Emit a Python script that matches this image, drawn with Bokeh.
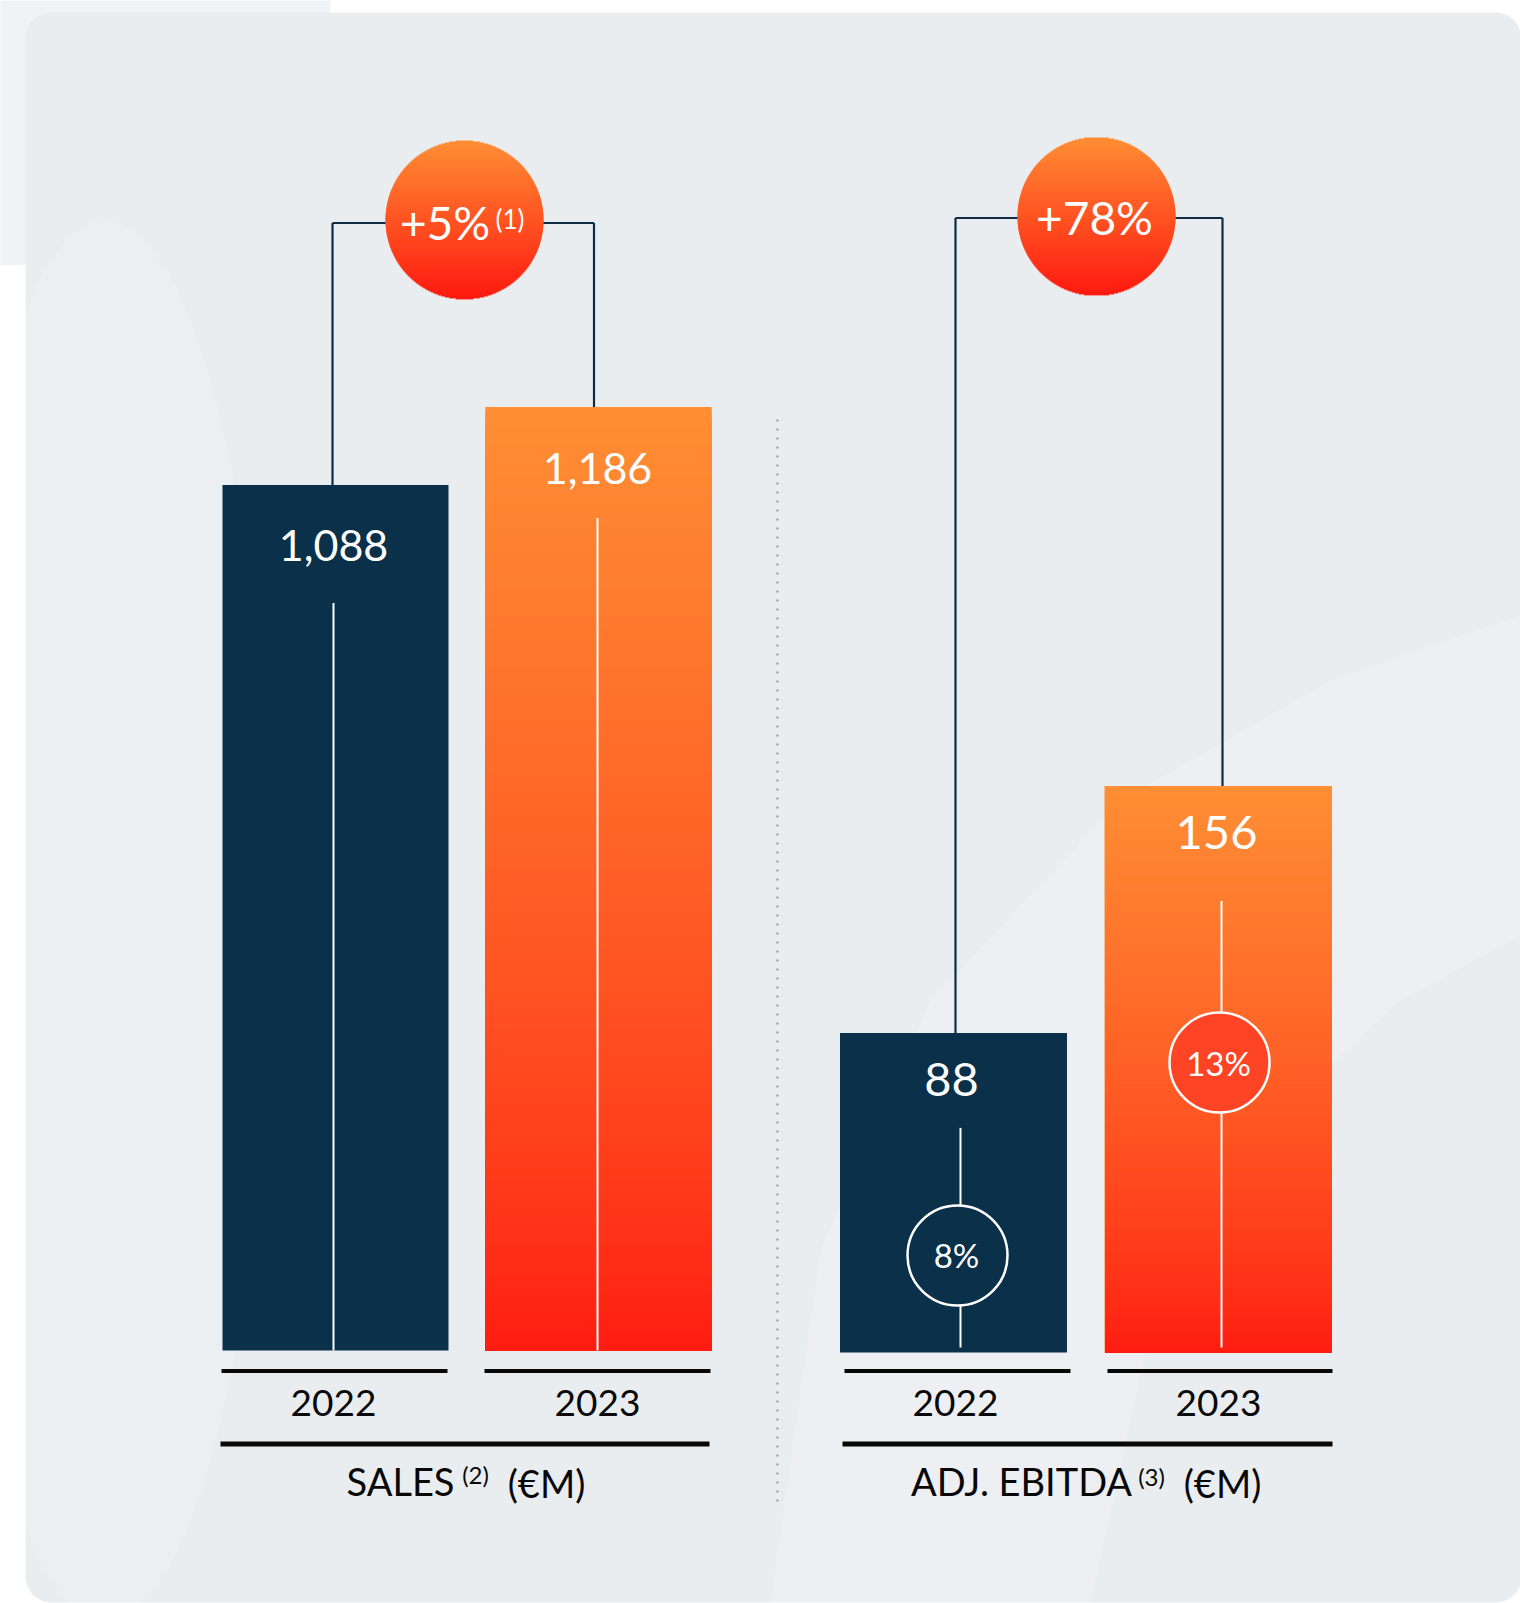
import numpy as np
from bokeh.plotting import figure
from bokeh.models import Range1d
from bokeh.core.properties import value
from bokeh.embed import file_html
from bokeh.resources import INLINE

# ---------------- data ----------------
years = ["2022", "2023"]
sales = [1088, 1186]            # EUR M
ebitda = [88, 156]              # EUR M
ebitda_margin = [8, 13]         # %
sales_growth = 5                # %
ebitda_growth = 78              # %
growth_notes = ["(1)", ""]
titles = ["SALES", "ADJ. EBITDA"]
title_notes = ["(2)", "(3)"]
unit_label = "(€M)"

# ---------------- layout (reference pixel coordinates, y downwards) ----------------
W, H = 1520, 1603
X0, Y0 = 0, 0
FONT = "Lato"
NAVY = "#0B3049"
INK = "#080808"
ORANGE = (255, 142, 52)
RED = (255, 26, 16)

SALES_BASE, SALES_PX = 1350.0, 0.7955
EB_BASE, EB_PX = 1352.0, 3.632

sales_x = [335, 598]
eb_x = [953, 1217.5]
BAR_W = 226


def Y(r):
    return -np.asarray(r, dtype=float) if np.ndim(r) else -float(r)


def to_sales(r):
    return (SALES_BASE - r) / SALES_PX


def to_eb(r):
    return (EB_BASE - r) / EB_PX


def mix(f, p=1.0):
    g = max(0.0, min(1.0, f)) ** p
    return "#%02x%02x%02x" % tuple(int(round(RED[i] + (ORANGE[i] - RED[i]) * g)) for i in range(3))


p = figure(width=W, height=H, output_backend="svg", toolbar_location=None,
           x_range=Range1d(X0, X0 + W), y_range=Range1d(-(Y0 + H), -Y0),
           x_axis_location=None, y_axis_location=None, min_border=0)
p.extra_y_ranges = {
    "sales": Range1d(to_sales(Y0 + H), to_sales(Y0)),
    "eb": Range1d(to_eb(Y0 + H), to_eb(Y0)),
}
p.grid.visible = False
p.outline_line_color = None
p.background_fill_color = "white"
p.border_fill_color = "white"

# ---------------- background ----------------
p.ellipse(x=0, y=Y(0), width=660, height=530, fill_color="#F0F3F5", line_color=None)


def rounded_rect(l, t, r, b, rad, n=18):
    xs, ys = [], []
    for cx, cy, a0 in [(r - rad, t + rad, -90), (r - rad, b - rad, 0),
                       (l + rad, b - rad, 90), (l + rad, t + rad, 180)]:
        for a in np.linspace(a0, a0 + 90, n):
            xs.append(cx + rad * np.cos(np.radians(a)))
            ys.append(cy + rad * np.sin(np.radians(a)))
    return xs, ys


px, py = rounded_rect(25, 12, 1521, 1602, 26)
p.patch(px, list(Y(py)), fill_color="#EAEDF0", line_color=None)

# subtle lighter shapes in the panel
p.ellipse(x=105, y=Y(920), width=330, height=1400, fill_color="white", fill_alpha=0.12, line_color=None)
bx = [1521, 1330, 1120, 930, 820, 770, 1090, 1150, 1260, 1400, 1521]
by = [615, 680, 800, 1000, 1250, 1602, 1602, 1330, 1130, 1000, 935]
p.patch(bx, list(Y(by)), fill_color="white", fill_alpha=0.14, line_color=None)

# dotted divider
p.segment(x0=777, y0=Y(419), x1=777, y1=Y(1503), line_color="#8796A5", line_width=2, line_dash="2 7")

# ---------------- bars ----------------
p.vbar(x=sales_x, width=BAR_W, top=sales, bottom=0, y_range_name="sales",
       fill_color=[NAVY, mix(1.0)], line_color=None)
p.vbar(x=eb_x, width=BAR_W + 1, top=ebitda, bottom=0, y_range_name="eb",
       fill_color=[NAVY, mix(1.0)], line_color=None)

# gradient for the 2023 bars (stacked overlapping slices from tallest to shortest)
N = 150
for cx, v, rng in [(sales_x[1], sales[1], "sales"), (eb_x[1], ebitda[1], "eb")]:
    tops = [v * (N - k) / N for k in range(N)]
    cols = [mix((N - k - 0.5) / N, 0.75) for k in range(N)]
    p.quad(left=cx - BAR_W / 2, right=cx + BAR_W / 2 + (1 if rng == "eb" else 0), bottom=0, top=tops,
           fill_color=cols, line_color=None, y_range_name=rng)

# white guide lines inside bars
sales_line_off = [118, 111]
eb_line_off = [95, 115]
p.segment(x0=[333, 597], x1=[333, 597],
          y0=[v - o / SALES_PX for v, o in zip(sales, sales_line_off)], y1=[0, 0],
          y_range_name="sales", line_color="white", line_width=2)
p.segment(x0=[960, 1221], x1=[960, 1221],
          y0=[v - o / EB_PX for v, o in zip(ebitda, eb_line_off)], y1=[5 / EB_PX, 5 / EB_PX],
          y_range_name="eb", line_color="white", line_width=2)

# margin circles
p.circle(x=[957, 1219], y=[Y(1255), Y(1062)], radius=50,
         fill_color=[NAVY, "#FF4325"], line_color="white", line_width=2.5)
p.text(x=[956, 1218], y=[Y(1254), Y(1062)], text=[f"{m}%" for m in ebitda_margin],
       text_font=value(FONT), text_font_size="33px", text_color="white",
       text_align="center", text_baseline="middle")

# value labels
p.text(x=[333, 597], y=[v - 61 / SALES_PX for v in sales], text=[f"{v:,}" for v in sales],
       y_range_name="sales", text_font=value(FONT), text_font_size="43px", text_color="white",
       text_align="center", text_baseline="middle")
p.text(x=[951, 1216], y=[v - 47 / EB_PX for v in ebitda], text=[f"{v:,}" for v in ebitda],
       y_range_name="eb", text_font=value(FONT), text_font_size="47px", text_color="white",
       text_align="center", text_baseline="middle")

# ---------------- growth brackets ----------------
BR = "#0D2D45"
p.segment(x0=[332, 593.5], x1=[332, 593.5], y0=sales, y1=[to_sales(222.5)] * 2,
          y_range_name="sales", line_color=BR, line_width=2.2)
p.segment(x0=[955, 1222], x1=[955, 1222], y0=ebitda, y1=[to_eb(217.5)] * 2,
          y_range_name="eb", line_color=BR, line_width=2.2)
p.segment(x0=[332, 955], x1=[593.5, 1222], y0=[Y(222.5), Y(217.5)], y1=[Y(222.5), Y(217.5)],
          line_color=BR, line_width=2.2)


def grad_circle(cx, cy, r):
    ys = np.arange(np.floor(cy - r), np.ceil(cy + r))
    mids = ys + 0.5
    half = np.sqrt(np.clip(r ** 2 - (mids - cy) ** 2, 0, None))
    f = 1 - (mids - (cy - r)) / (2 * r)
    cols = [mix(fi) for fi in f]
    p.quad(left=list(cx - half), right=list(cx + half), top=list(Y(ys)), bottom=list(Y(ys + 1.9)),
           fill_color=cols, line_color=None)


grad_circle(464, 219, 79)
grad_circle(1096, 215.5, 79)

p.text(x=[444.5, 1094], y=[Y(221.5), Y(217)], text=[f"+{sales_growth}%", f"+{ebitda_growth}%"],
       text_font=value(FONT), text_font_size="46px", text_color="white",
       text_align="center", text_baseline="middle")
p.text(x=[509.5], y=[Y(218.5)], text=[growth_notes[0]],
       text_font=value(FONT), text_font_size="26px", text_color="white",
       text_align="center", text_baseline="middle")

# ---------------- category axis ----------------
p.segment(x0=[221, 484, 844, 1107], x1=[447, 710, 1070, 1332], y0=[Y(1370.5)] * 4, y1=[Y(1370.5)] * 4,
          line_color=INK, line_width=4)
p.segment(x0=[220, 842], x1=[709, 1332], y0=[Y(1443.5)] * 2, y1=[Y(1443.5)] * 2,
          line_color=INK, line_width=5)

p.text(x=[333, 597, 955, 1218], y=[Y(1402.5)] * 4, text=years + years,
       text_font=value(FONT), text_font_size="37px", text_color=INK,
       text_align="center", text_baseline="middle")

p.text(x=[400, 1021], y=[Y(1480)] * 2, text=titles,
       text_font=value(FONT), text_font_size="38px", text_color=INK,
       text_align="center", text_baseline="middle")
p.text(x=[475, 1151], y=[Y(1474), Y(1476)], text=title_notes,
       text_font=value(FONT), text_font_size="24px", text_color=INK,
       text_align="center", text_baseline="middle")
p.text(x=[546, 1222], y=[Y(1482)] * 2, text=[unit_label] * 2,
       text_font=value(FONT), text_font_size="38px", text_color=INK,
       text_align="center", text_baseline="middle")

open("out.html", "w").write(file_html(p, INLINE))
